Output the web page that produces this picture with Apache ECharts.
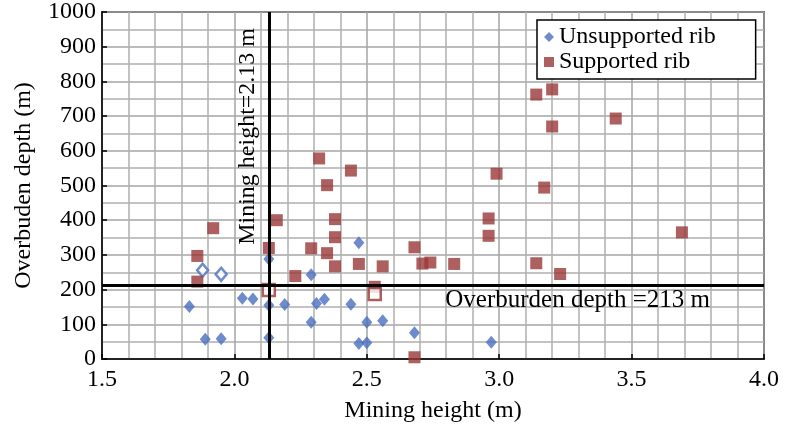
<!DOCTYPE html>
<html><head><meta charset="utf-8">
<script src="https://cdn.jsdelivr.net/npm/echarts@6/dist/echarts.min.js"></script>
<style>html,body{margin:0;padding:0;background:#fff}#c{width:785px;height:437px}</style>
</head><body><div id="c"></div>
<script>
// Unsupported rib (filled diamonds)
const unsupportedX = [1.83, 1.89, 1.95, 2.03, 2.07, 2.13, 2.13, 2.13, 2.19, 2.29, 2.29, 2.31, 2.34, 2.44, 2.47, 2.47, 2.50, 2.50, 2.56, 2.68, 2.97];
const unsupportedY = [151, 57, 58, 175, 173, 288, 155, 61, 157, 243, 106, 160, 172, 158, 335, 45, 47, 106, 110, 76, 48];
// Unsupported rib (hollow diamonds)
const unsupportedHollowX = [1.88, 1.95];
const unsupportedHollowY = [256, 244];
// Supported rib (filled squares)
const supportedX = [1.86, 1.86, 1.92, 2.13, 2.16, 2.23, 2.29, 2.32, 2.35, 2.35, 2.38, 2.38, 2.38, 2.44, 2.47, 2.53, 2.56, 2.68, 2.68, 2.71, 2.74, 2.83, 2.96, 2.96, 2.99, 3.14, 3.20, 3.20, 3.17, 3.14, 3.23, 3.44, 3.69];
const supportedY = [297, 223, 377, 320, 400, 239, 319, 578, 501, 305, 403, 351, 267, 543, 274, 208, 267, 322, 5, 275, 278, 274, 405, 355, 534, 762, 777, 670, 494, 276, 245, 693, 365];
// Supported rib (hollow squares)
const supportedHollowX = [2.13, 2.53];
const supportedHollowY = [199, 187];
// Reference lines
const refMiningHeight = 2.13;
const refDepth = 213;
const xTicks = [1.5, 2.0, 2.5, 3.0, 3.5, 4.0];
const yTicks = [0, 100, 200, 300, 400, 500, 600, 700, 800, 900, 1000];

const zip = (xs, ys) => xs.map((x, i) => [x, ys[i]]);
const FONT = '"Liberation Serif", "Times New Roman", serif';
const FS = 24;
const BLUE = '#4A6EBE';
const RED = '#983837';

const chart = echarts.init(document.getElementById('c'), null, {renderer: 'canvas'});
chart.setOption({
  animation: false,
  backgroundColor: '#fff',
  textStyle: {fontFamily: FONT},
  grid: {left: 102, right: 21, top: 12, bottom: 78, show: true, borderColor: '#000', borderWidth: 1.5, backgroundColor: 'transparent'},
  legend: {
    orient: 'vertical', left: 537, top: 20,
    data: [{name: 'Unsupported rib', icon: 'diamond'}, {name: 'Supported rib', icon: 'rect'}],
    itemWidth: 10, itemHeight: 10, itemGap: 1,
    padding: [5, 40, 5, 7],
    backgroundColor: '#fff', borderColor: '#000', borderWidth: 1.5, borderRadius: 0,
    textStyle: {fontFamily: FONT, fontSize: FS, color: '#000'}
  },
  xAxis: {
    type: 'value', min: xTicks[0], max: xTicks[xTicks.length - 1], interval: 0.5,
    name: 'Mining height (m)', nameLocation: 'middle', nameGap: 40,
    nameTextStyle: {fontFamily: FONT, fontSize: FS, color: '#000'},
    axisLine: {show: true, lineStyle: {color: '#000', width: 1.5}},
    axisTick: {show: true, inside: true, length: 5, lineStyle: {color: '#000', width: 1.5}},
    axisLabel: {fontFamily: FONT, fontSize: FS, color: '#000', margin: 9, formatter: v => v.toFixed(1)},
    splitLine: {show: true, lineStyle: {color: '#a4a4a4', width: 1.5}},
    minorTick: {show: false, splitNumber: 5},
    minorSplitLine: {show: true, lineStyle: {color: '#b0b0b0', width: 1.5}}
  },
  yAxis: {
    type: 'value', min: yTicks[0], max: yTicks[yTicks.length - 1], interval: 100,
    name: 'Overbuden depth (m)', nameLocation: 'middle', nameGap: 66,
    nameTextStyle: {fontFamily: FONT, fontSize: FS, color: '#000'},
    axisLine: {show: true, lineStyle: {color: '#000', width: 1.5}},
    axisTick: {show: true, inside: true, length: 5, lineStyle: {color: '#000', width: 1.5}},
    axisLabel: {fontFamily: FONT, fontSize: FS, color: '#000', margin: 6, formatter: v => String(v)},
    splitLine: {show: true, lineStyle: {color: '#a4a4a4', width: 1.5}},
    minorTick: {show: false, splitNumber: 2},
    minorSplitLine: {show: true, lineStyle: {color: '#b0b0b0', width: 1.5}}
  },
  series: [
    {
      type: 'scatter', name: 'refs', data: [], z: 1, silent: true,
      markLine: {
        silent: true, symbol: 'none', animation: false,
        lineStyle: {color: '#000', width: 3, type: 'solid'},
        data: [
          {xAxis: refMiningHeight, label: {show: true, position: 'insideEndTop', distance: [16, 9], formatter: 'Mining height=2.13 m', fontFamily: FONT, fontSize: FS, color: '#000'}},
          {yAxis: refDepth, label: {show: true, position: 'insideEndBottom', distance: [54, 3], formatter: 'Overburden depth =213 m', fontFamily: FONT, fontSize: 25, color: '#000'}}
        ]
      }
    },
    {type: 'scatter', name: 'Unsupported rib', data: zip(unsupportedX, unsupportedY), symbol: 'diamond', symbolSize: [11, 13], itemStyle: {color: BLUE}, z: 3},
    {type: 'scatter', name: 'Unsupported rib hollow', data: zip(unsupportedHollowX, unsupportedHollowY), symbol: 'diamond', symbolSize: [11, 13], itemStyle: {color: '#fff', borderColor: BLUE, borderWidth: 2.5}, z: 3},
    {type: 'scatter', name: 'Supported rib', data: zip(supportedX, supportedY), symbol: 'rect', symbolSize: 12, itemStyle: {color: RED}, z: 3},
    {type: 'scatter', name: 'Supported rib hollow', data: zip(supportedHollowX, supportedHollowY), symbol: 'rect', symbolSize: 12, itemStyle: {color: '#fff', borderColor: RED, borderWidth: 2.5}, z: 4}
  ]
});
</script>
</body></html>
